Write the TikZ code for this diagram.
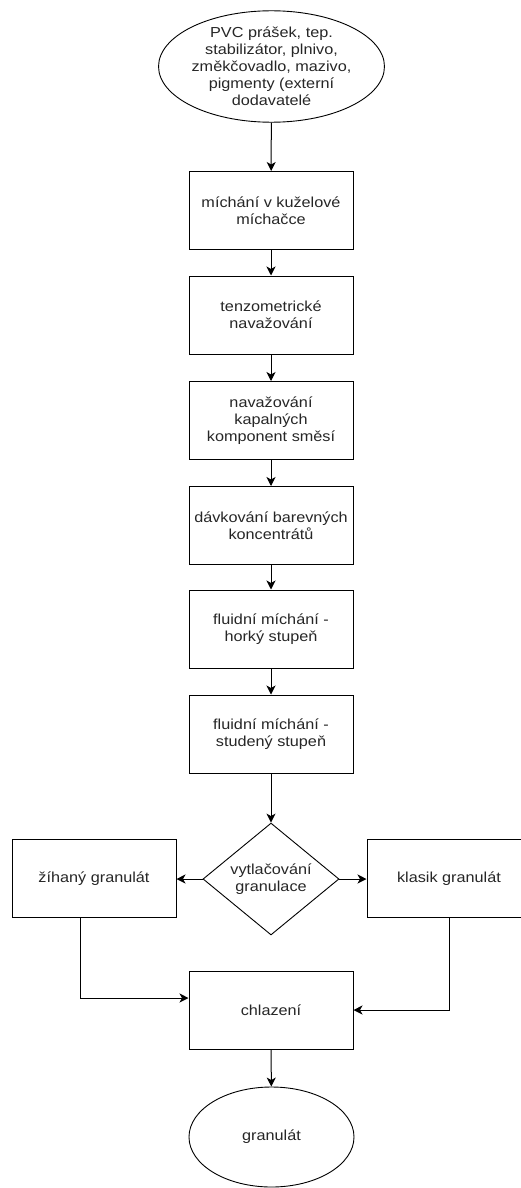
\documentclass[tikz,border=0pt]{standalone}
\usepackage{fontspec}
\setmainfont{Liberation Sans}[FakeStretch=1.12]
\usetikzlibrary{shapes.geometric,arrows.meta}

\begin{document}
\begin{tikzpicture}[x=1pt,y=-1pt,
  every node/.style={font=\fontsize{14.5}{17}\selectfont, text=black!85, align=center},
  stepbox/.style={draw=black, line width=1pt, minimum width=164pt, minimum height=78pt, inner sep=0pt},
  terminal/.style={draw=black, line width=0.9pt, ellipse, inner sep=0pt},
  decision/.style={draw=black, line width=0.9pt, diamond, minimum width=136pt, minimum height=104pt, inner sep=0pt},
  flow/.style={draw=black, line width=1pt, -{Stealth[length=9pt,width=9pt,inset=2.5pt]}}
]
\useasboundingbox (0,0) rectangle (520,1188);

% source materials and mixing sequence
\node[terminal, minimum width=191pt, minimum height=103pt] (src) at (271.5,66.5)
  {PVC prášek, tep.\\stabilizátor, plnivo,\\změkčovadlo, mazivo,\\pigmenty (externí\\dodavatelé};
\node[stepbox] (mix)   at (271,210.5) {míchání v kuželové\\míchačce};
\node[stepbox] (tenz)  at (271,315)   {tenzometrické\\navažování};
\node[stepbox] (liq)   at (271,420.5) {navažování\\kapalných\\komponent směsí};
\node[stepbox] (dose)  at (271,525.5) {dávkování barevných\\koncentrátů};
\node[stepbox] (hot)   at (271,629)   {fluidní míchání -\\horký stupeň};
\node[stepbox] (cold)  at (271,734)   {fluidní míchání -\\studený stupeň};

% extrusion and the two granulate branches
\node[decision] (extr) at (271,879) {vytlačování\\granulace};
\node[stepbox] (annl)  at (94,878.5)  {žíhaný granulát};
\node[stepbox] (clas)  at (449,878.5) {klasik granulát};

% cooling and product
\node[stepbox] (cool)  at (271,1010)  {chlazení};
\node[terminal, minimum width=165pt, minimum height=100pt] (prod) at (271.5,1137) {granulát};

\draw[flow] (src) -- (mix);
\draw[flow] (mix) -- (tenz);
\draw[flow] (tenz) -- (liq);
\draw[flow] (liq) -- (dose);
\draw[flow] (dose) -- (hot);
\draw[flow] (hot) -- (cold);
\draw[flow] (cold) -- (extr);
\draw[flow] (extr.west) -- (annl.east |- extr.west);
\draw[flow] (extr.east) -- (clas.west |- extr.east);
\draw[flow] ([xshift=-14pt]annl.south) |- ([yshift=12pt]cool.west);
\draw[flow] (clas.south) |- (cool.east);
\draw[flow] (cool) -- (prod);
\end{tikzpicture}
\end{document}
